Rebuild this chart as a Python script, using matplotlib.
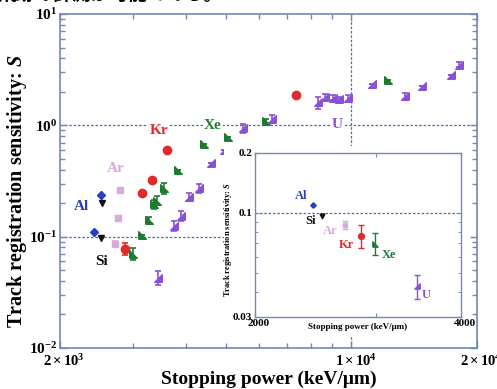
import numpy as np
import matplotlib
matplotlib.use("Agg")
import matplotlib.pyplot as plt
from matplotlib.patches import Rectangle
from matplotlib.ticker import NullFormatter
from matplotlib.transforms import ScaledTranslation

plt.rcParams['font.family'] = ['Liberation Serif', 'DejaVu Serif']
plt.rcParams['font.weight'] = 'bold'
plt.rcParams['mathtext.fontset'] = 'custom'
plt.rcParams['mathtext.rm'] = 'Liberation Serif:bold'
plt.rcParams['mathtext.bf'] = 'Liberation Serif:bold'
plt.rcParams['mathtext.it'] = 'Liberation Serif:bold:italic'

# donnees (keV/um, S)
al_x = [2410, 2510]
al_y = [0.110, 0.237]
si_x = [2515, 2520]
si_y = [0.097, 0.202]
ar_x = [2710, 2755, 2785]
ar_y = [0.0865, 0.148, 0.265]
ar_err = [0.004, 0.006, 0.01]
kr_x = [2865, 3145, 3325, 3620, 7380]
kr_y = [0.078, 0.2465, 0.320, 0.595, 1.89]
kr_err = [0.009, 0, 0, 0, 0]
xe_x = [2993, 3138, 3278, 3361, 3416, 3552, 3848, 4428, 5056, 6238, 12236]
xe_y = [0.0703, 0.104, 0.141, 0.196, 0.211, 0.271, 0.393, 0.674, 0.780, 1.086, 2.544]
xe_err = [0.008, 0, 0.01, 0.018, 0.02, 0.03, 0, 0, 0, 0.06, 0]
u_x = [3436, 3744, 3902, 4078, 4320, 4616, 4960, 5494, 6432, 8314, 8642,
       9030, 9334, 9810, 11232, 13442, 14762, 17324, 18108]
u_y = [0.0427, 0.1256, 0.1546, 0.229, 0.271, 0.457, 0.595, 0.940, 1.144, 1.611, 1.788,
       1.777, 1.715, 1.762, 2.375, 1.837, 2.246, 2.822, 3.508]
u_err = [0.006, 0.012, 0.015, 0.02, 0.025, 0, 0, 0.08, 0.1, 0.2, 0.12,
         0.08, 0.08, 0.12, 0, 0.12, 0, 0, 0.2]

# encart : premier point (seuil) de chaque ion
ins_names = ['Al', 'Si', 'Ar', 'Kr', 'Xe', 'U']
ins_x = [2429, 2506, 2707, 2857, 2995, 3449]
ins_y = [0.1088, 0.0961, 0.087, 0.0763, 0.0699, 0.0426]
ins_err = [0, 0, 0.004, 0.010, 0.009, 0.006]

col = {'Al': '#2b3fbf', 'Si': '#111111', 'Ar': '#d9a8dc', 'Kr': '#e02a2a',
       'Xe': '#1f7a34', 'U': '#8a50d6'}
frame = '#6f89b8'
dotc = '#4a68b4'

xe_mk = [(-1, -1), (1, -1), (-1, 1), (-1, -1)]
u_mk = [(1, -1), (1, 1), (-1, -1), (1, -1)]
mk = {'Al': 'D', 'Si': 'v', 'Ar': 's', 'Kr': 'o', 'Xe': xe_mk, 'U': u_mk}
ms = {'Al': 4, 'Si': 5, 'Ar': 4.5, 'Kr': 6, 'Xe': 5.5, 'U': 5.5}

fig = plt.figure(figsize=(4.97, 3.89), dpi=100)
ax = fig.add_axes([0.1207, 0.1054, 0.839, 0.8586])
ax.set_xscale('log')
ax.set_yscale('log')
ax.set_xlim(2000, 20000)
ax.set_ylim(0.01, 10)

ax.axhline(1, color=dotc, ls=(0, (2, 1.5)), lw=0.9, zorder=1)
ax.axhline(0.1, color=dotc, ls=(0, (2, 1.5)), lw=0.9, zorder=1)
ax.axvline(1e4, color=dotc, ls=(0, (2, 1.5)), lw=0.9, zorder=1)

series = [('Al', al_x, al_y, None), ('Si', si_x, si_y, None), ('Ar', ar_x, ar_y, ar_err),
          ('Kr', kr_x, kr_y, kr_err), ('Xe', xe_x, xe_y, xe_err), ('U', u_x, u_y, u_err)]
for name, xs, ys, er in series:
    ax.errorbar(xs, ys, yerr=er, fmt='none', ecolor=col[name], elinewidth=1.2,
                capsize=2.5, capthick=1.2, zorder=3)
    ax.plot(xs, ys, ls='none', marker=mk[name], ms=ms[name], color=col[name],
            mec=col[name], zorder=4)

lab_kw = dict(fontsize=11, fontweight='bold', ha='center', va='center', zorder=5)
ax.text(2246, 0.186, 'Al', color=col['Al'], **lab_kw)
ax.text(2518, 0.0595, 'Si', color=col['Si'], **lab_kw)
ax.text(2724, 0.41, 'Ar', color=col['Ar'], **lab_kw)
wb = dict(fc='white', ec='none', pad=1)
ax.text(3456, 0.90, 'Kr', color=col['Kr'], bbox=wb, **lab_kw)
ax.text(4654, 1.0, 'Xe', color=col['Xe'], bbox=wb, **lab_kw)
ax.text(9234, 1.02, 'U', color=col['U'], bbox=wb, **lab_kw)

ax.set_xticks([2000, 10000, 20000],
              [r'$2\times10^{3}$', r'$1\times10^{4}$', r'$2\times10^{4}$'])
ax.set_xticks([3000, 4000, 5000, 6000, 7000, 8000, 9000], minor=True)
ax.xaxis.set_minor_formatter(NullFormatter())
ax.set_yticks([0.01, 0.1, 1, 10],
              [r'$10^{-2}$', r'$10^{-1}$', r'$10^{0}$', r'$10^{1}$'])
ax.tick_params(which='both', direction='in', top=True, right=True, color=frame, width=1)
ax.tick_params(which='major', length=5)
ax.tick_params(which='minor', length=3.5)
ax.tick_params(axis='x', labelsize=10.5, pad=4)
ax.tick_params(axis='y', labelsize=11, pad=2)
shift = ScaledTranslation(4 / 100, 0, fig.dpi_scale_trans)
for t in ax.get_xticklabels():
    t.set_transform(t.get_transform() + shift)
for s in ax.spines.values():
    s.set_color(frame)
    s.set_linewidth(1.2)

ax.set_xlabel('Stopping power (keV/μm)', fontsize=14, fontweight='bold')
ax.xaxis.set_label_coords(0.5, -0.068)
ax.set_ylabel('Track registration sensitivity: $S$', fontsize=14.5, fontweight='bold')
ax.yaxis.set_label_coords(-0.075, 0.47)

# fond blanc derriere l'encart
fig.patches.append(Rectangle((224 / 497, 53 / 389), 246 / 497, 190 / 389,
                             transform=fig.transFigure, fc='white', ec='none', zorder=1))

ins = fig.add_axes([0.5131, 0.1859, 0.4145, 0.4216], zorder=2)
ins.set_xscale('log')
ins.set_yscale('log')
ins.set_xlim(2000, 4000)
ins.set_ylim(0.03, 0.2)
ins.axhline(0.1, color=dotc, ls=(0, (2, 1.5)), lw=0.9, zorder=1)
for i, name in enumerate(ins_names):
    ins.errorbar(ins_x[i], ins_y[i], yerr=ins_err[i] if ins_err[i] else None, fmt='none',
                 ecolor=col[name], elinewidth=1, capsize=2, capthick=1, zorder=3)
    ins.plot(ins_x[i], ins_y[i], ls='none', marker=mk[name], ms=ms[name] * 0.7,
             color=col[name], zorder=4)

ilab = dict(fontsize=9, fontweight='bold', ha='center', va='center', zorder=5)
ins.text(2335, 0.121, 'Al', color=col['Al'], **ilab)
ins.text(2407, 0.0904, 'Si', color=col['Si'], **ilab)
ins.text(2574, 0.0808, 'Ar', color=col['Ar'], **ilab)
ins.text(2723, 0.0691, 'Kr', color=col['Kr'], **ilab)
ins.text(3143, 0.061, 'Xe', color=col['Xe'], **ilab)
ins.text(3556, 0.0384, 'U', color=col['U'], **ilab)

ins.set_xticks([2000, 3000, 4000], ['2000', '', '4000'])
ins.xaxis.set_minor_formatter(NullFormatter())
ins.xaxis.set_minor_locator(plt.NullLocator())
ins.set_yticks([0.03, 0.1, 0.2], ['0.03', '0.1', '0.2'])
ins.yaxis.set_minor_formatter(NullFormatter())
ins.tick_params(which='both', direction='in', top=True, right=True, color=frame,
                labelsize=8, pad=2)
ins.tick_params(which='major', length=3)
ins.tick_params(which='minor', length=2)
ishift = ScaledTranslation(4 / 100, 0, fig.dpi_scale_trans)
for t in ins.get_xticklabels():
    t.set_transform(t.get_transform() + ishift)
for s in ins.spines.values():
    s.set_color(frame)
    s.set_linewidth(1)
ins.set_xlabel('Stopping power (keV/μm)', fontsize=6.5, fontweight='bold')
ins.xaxis.set_label_coords(0.5, -0.04)
ins.set_ylabel('Track registration sensitivity: $S$', fontsize=6, fontweight='bold')
ins.yaxis.set_label_coords(-0.10, 0.47)

# texte coupe en haut de l'image
fig.text(-0.005, 1 + 6 / 389, '飛跡の計測が可能である。', fontsize=13.5,
         family=['Noto Sans CJK JP', 'DejaVu Sans'], ha='left', va='center', color='black')

fig.savefig('out.png', dpi=100)
